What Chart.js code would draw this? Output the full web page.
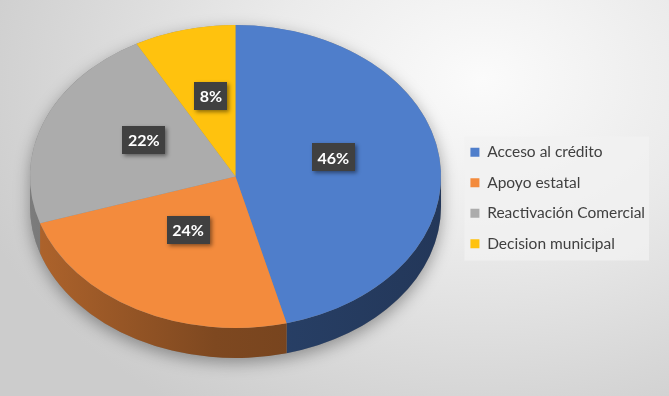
<!DOCTYPE html>
<html>
<head>
<meta charset="utf-8">
<script src="https://cdn.jsdelivr.net/npm/chart.js@4.4.1/dist/chart.umd.min.js"></script>
<style>
html, body { margin: 0; padding: 0; }
body {
	width: 669px; height: 396px; overflow: hidden;
	background: radial-gradient(ellipse 80% 100% at 72% 20%, #fbfbfb 0%, #ebebeb 40%, #d6d6d6 80%, #cccccc 100%);
}
#wrap { position: relative; width: 669px; height: 396px; }
</style>
</head>
<body>
<div id="wrap"><canvas id="pie-chart"></canvas></div>
<script>
var categorias = ['Acceso al crédito', 'Apoyo estatal', 'Reactivación Comercial', 'Decision municipal'];
var porcentajes = [46, 24, 22, 8];
var etiquetas = ['46%', '24%', '22%', '8%'];
var colores = ['#4f7ecb', '#f38b3d', '#acacac', '#ffc20e'];

// elipse de la cara superior y grosor del "3D"
var PIE_CX = 235.5, PIE_CY = 176.5, PIE_RX = 205.5, PIE_RY = 151.5, DEPTH = 30;

function shade(hex, f) {
	var n = parseInt(hex.slice(1), 16);
	var r = Math.round(((n >> 16) & 255) * f);
	var g = Math.round(((n >> 8) & 255) * f);
	var b = Math.round((n & 255) * f);
	return 'rgb(' + r + ',' + g + ',' + b + ')';
}

function setPieTransform(ctx, arc) {
	var r = arc.outerRadius;
	ctx.translate(PIE_CX, PIE_CY);
	ctx.scale(PIE_RX / r, PIE_RY / r);
	ctx.translate(-arc.x, -arc.y);
}

var pie3d = {
	id: 'pie3d',
	beforeDraw: function(chart) {
		// fondo de la leyenda
		var lg = chart.legend;
		if (!lg || !lg.legendHitBoxes.length) return;
		var hb = lg.legendHitBoxes;
		var w = 0;
		hb.forEach(function(h) { w = Math.max(w, h.width); });
		var ctx = chart.ctx;
		ctx.save();
		ctx.fillStyle = 'rgba(242,242,242,0.75)';
		ctx.fillRect(hb[0].left - 6, hb[0].top - 8, w + 10, hb[hb.length - 1].top + hb[hb.length - 1].height - hb[0].top + 17);
		ctx.restore();
	},
	beforeDatasetsDraw: function(chart) {
		var arcs = chart.getDatasetMeta(0).data;
		if (!arcs.length) return;
		var ctx = chart.ctx;
		var a0 = arcs[0];
		var cx = a0.x, cy = a0.y, r = a0.outerRadius;
		var d = DEPTH * r / PIE_RY;

		ctx.save();
		setPieTransform(ctx, a0);

		// sombra
		ctx.save();
		ctx.shadowColor = 'rgba(0,0,0,0.35)';
		ctx.shadowBlur = 16;
		ctx.shadowOffsetY = 5;
		ctx.fillStyle = '#888';
		ctx.beginPath();
		ctx.arc(cx, cy, r, Math.PI, 2 * Math.PI);
		ctx.arc(cx, cy + d, r, 0, Math.PI);
		ctx.closePath();
		ctx.fill();
		ctx.restore();

		// paredes laterales
		arcs.forEach(function(el, i) {
			var s = Math.max(el.startAngle, 0);
			var e = Math.min(el.endAngle, Math.PI);
			if (e <= s) return;
			var grad = ctx.createLinearGradient(cx - r, 0, cx + r, 0);
			grad.addColorStop(0, shade(colores[i], 0.72));
			grad.addColorStop(0.45, shade(colores[i], 0.52));
			grad.addColorStop(1, shade(colores[i], 0.44));
			ctx.fillStyle = grad;
			ctx.beginPath();
			ctx.arc(cx, cy, r, s, e);
			ctx.arc(cx, cy + d, r, e, s, true);
			ctx.closePath();
			ctx.fill();
		});
		// la cara superior la dibuja Chart.js con la misma transformacion
	},
	afterDatasetsDraw: function(chart) {
		var arcs = chart.getDatasetMeta(0).data;
		if (!arcs.length) return;
		var ctx = chart.ctx;
		ctx.restore();

		// etiquetas de porcentaje
		ctx.save();
		ctx.font = 'bold 16px Lato';
		ctx.textAlign = 'center';
		ctx.textBaseline = 'middle';
		arcs.forEach(function(el, i) {
			var mid = (el.startAngle + el.endAngle) / 2;
			var x = PIE_CX + PIE_RX * 0.48 * Math.cos(mid);
			var y = PIE_CY + PIE_RY * 0.48 * Math.sin(mid) - 10;
			var tw = ctx.measureText(etiquetas[i]).width;
			var bw = tw + 11, bh = 28;
			ctx.save();
			ctx.shadowColor = 'rgba(0,0,0,0.45)';
			ctx.shadowBlur = 4;
			ctx.shadowOffsetX = 2;
			ctx.shadowOffsetY = 2;
			ctx.fillStyle = '#404040';
			ctx.fillRect(Math.round(x - bw / 2), Math.round(y - bh / 2), Math.round(bw), bh);
			ctx.restore();
			ctx.fillStyle = '#ffffff';
			ctx.fillText(etiquetas[i], x, y + 1);
		});
		ctx.restore();
	}
};

var ctx = document.getElementById('pie-chart').getContext('2d');
var myChart = new Chart(ctx, {
	type: 'pie',
	data: {
		labels: categorias,
		datasets: [{
			data: porcentajes,
			backgroundColor: colores,
			borderWidth: 0
		}]
	},
	options: {
		responsive: true,
		maintainAspectRatio: false,
		animation: false,
		layout: { padding: { right: 14 } },
		plugins: {
			tooltip: { enabled: false },
			legend: {
				position: 'right',
				labels: {
					boxWidth: 9,
					boxHeight: 9,
					padding: 15,
					color: '#404040',
					font: { family: 'Lato', size: 15.5 }
				}
			}
		}
	},
	plugins: [pie3d]
});
</script>
</body>
</html>
